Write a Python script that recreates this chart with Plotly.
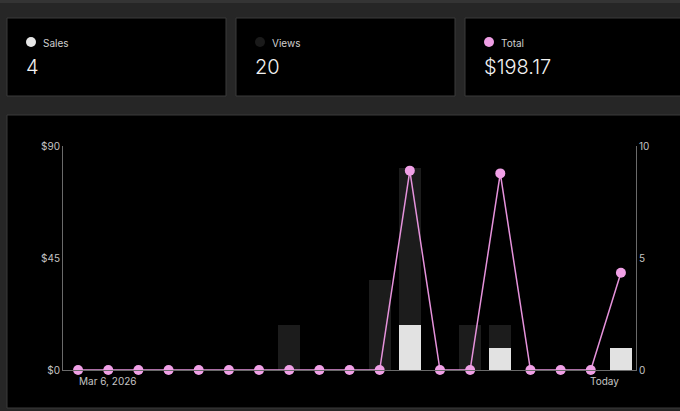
import plotly.graph_objects as go

W, H = 680, 411

days = ["2026-03-%02d" % d for d in range(6, 25)]
views = [0, 0, 0, 0, 0, 0, 0, 2, 0, 0, 4, 9, 0, 2, 2, 0, 0, 0, 1]
sales = [0, 0, 0, 0, 0, 0, 0, 0, 0, 0, 0, 2, 0, 0, 1, 0, 0, 0, 1]
totals = [0, 0, 0, 0, 0, 0, 0, 0, 0, 0, 0, 80.09, 0, 0, 79.00, 0, 0, 0, 39.08]

card_labels = ["Sales", "Views", "Total"]
card_values = ["4", "20", "$198.17"]
card_dots = ["#e6e6e6", "#1a1a1a", "#ef9fe5"]

left_ticks = [0, 45, 90]
left_ticktext = ["$0", "$45", "$90"]
right_ticks = [0, 5, 10]
right_ticktext = ["0", "5", "10"]
first_label = "Mar 6, 2026"
last_label = "Today"


def px(x):
    return x / W


def py(y):
    return 1 - y / H


BG = "#262626"
BORDER = "#3b3b3b"
FONT = "Inter, Noto Sans, sans-serif"

fig = go.Figure()

fig.add_trace(go.Bar(x=days, y=views, marker=dict(color="#1c1c1c", line=dict(width=0)),
                     width=0.72, yaxis="y", name="Views", hoverinfo="skip"))
fig.add_trace(go.Bar(x=days, y=sales, marker=dict(color="#e2e2e2", line=dict(width=0)),
                     width=0.72, yaxis="y", name="Sales", hoverinfo="skip"))
fig.add_trace(go.Scatter(x=days, y=totals, mode="lines+markers", yaxis="y2", name="Total",
                         line=dict(color="#e592db", width=1.5),
                         marker=dict(size=10, color="#f0a0e6", line=dict(width=0)),
                         cliponaxis=False))

shapes = []
# top strip
shapes.append(dict(type="rect", xref="paper", yref="paper", x0=0, x1=1, y0=py(3), y1=1,
                   fillcolor="#343434", line=dict(width=0), layer="below"))
# cards
card_lefts = [7, 236, 465]
card_rights = [226, 455, 690]
for l, r in zip(card_lefts, card_rights):
    shapes.append(dict(type="rect", xref="paper", yref="paper", x0=px(l), x1=px(r),
                       y0=py(96), y1=py(18), fillcolor="#000000",
                       line=dict(color=BORDER, width=1), layer="below"))
# chart card
shapes.append(dict(type="rect", xref="paper", yref="paper", x0=px(7), x1=px(690),
                   y0=py(408), y1=py(115), fillcolor="#000000",
                   line=dict(color=BORDER, width=1), layer="below"))
# dots
for l, c in zip(card_lefts, card_dots):
    cx, cy = l + 24, 42
    shapes.append(dict(type="circle", xref="paper", yref="paper",
                       x0=px(cx - 5), x1=px(cx + 5), y0=py(cy + 5), y1=py(cy - 5),
                       fillcolor=c, line=dict(width=0)))

annotations = []
for l, lab, val in zip(card_lefts, card_labels, card_values):
    annotations.append(dict(x=px(l + 34), y=py(43), xref="paper", yref="paper", text=lab,
                            showarrow=False, xanchor="left", yanchor="middle",
                            font=dict(family=FONT, size=10, color="#cfcfcf")))
    annotations.append(dict(x=px(l + 17), y=py(67), xref="paper", yref="paper", text=val,
                            showarrow=False, xanchor="left", yanchor="middle",
                            font=dict(family=FONT, size=20, color="#f2f2f2", weight=300)))

annotations.append(dict(x=days[0], y=py(381), xref="x", yref="paper", text=first_label,
                        showarrow=False, xanchor="left", yanchor="middle", xshift=-1,
                        font=dict(family=FONT, size=10, color="#c4c4c4")))
annotations.append(dict(x=days[-1], y=py(381), xref="x", yref="paper", text=last_label,
                        showarrow=False, xanchor="right", yanchor="middle", xshift=0,
                        font=dict(family=FONT, size=10, color="#c4c4c4")))

fig.update_layout(
    template="none",
    width=W, height=H, autosize=False,
    margin=dict(l=0, r=0, t=0, b=0, pad=0, autoexpand=False),
    paper_bgcolor=BG, plot_bgcolor="rgba(0,0,0,0)",
    showlegend=False, barmode="overlay", bargap=0,
    xaxis=dict(type="category", range=[-0.5, 18.5], domain=[px(63), px(636)],
               showticklabels=False, showgrid=False, zeroline=False, automargin=False,
               showline=True, linecolor="#6a6a6a", linewidth=1, ticks=""),
    yaxis=dict(range=[0, 10], domain=[py(370), py(146)], side="right", anchor="x",
               tickvals=right_ticks, ticktext=right_ticktext, showgrid=False, zeroline=False,
               showline=True, linecolor="#6a6a6a", linewidth=1, ticks="", automargin=False,
               tickfont=dict(family=FONT, size=10, color="#c4c4c4")),
    yaxis2=dict(range=[0, 90], overlaying="y", side="left", anchor="x",
                tickvals=left_ticks, ticktext=left_ticktext, showgrid=False, zeroline=False,
                showline=True, linecolor="#6a6a6a", linewidth=1, ticks="", automargin=False,
                tickfont=dict(family=FONT, size=10, color="#c4c4c4")),
    shapes=shapes, annotations=annotations,
)

fig.write_html(
    "out.html",
    config={"displayModeBar": False},
    post_script="document.body.style.margin='0';document.body.style.overflow='hidden';",
)
